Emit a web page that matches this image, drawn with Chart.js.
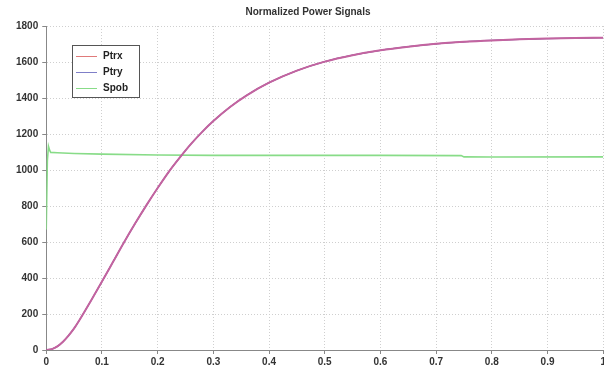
<!DOCTYPE html>
<html>
<head>
<meta charset="utf-8">
<script src="https://cdn.jsdelivr.net/npm/chart.js@4/dist/chart.umd.min.js"></script>
<style>
  body { margin: 0; background: #fff; }
  #wrap { width: 604px; height: 370px; overflow: hidden; }
</style>
</head>
<body>
<div id="wrap"><canvas id="powerChart" width="608" height="370"></canvas></div>
<script>
// time axis for the transmitted power signals
const timeP = [0, 0.01, 0.02, 0.03, 0.04, 0.05, 0.06, 0.08, 0.1, 0.12, 0.14, 0.16, 0.18,
  0.2, 0.22, 0.24, 0.26, 0.28, 0.3, 0.33, 0.36, 0.4, 0.45, 0.5, 0.55, 0.6, 0.65, 0.7,
  0.75, 0.8, 0.85, 0.9, 0.95, 1.0];
const ptrx = [0, 5, 20, 46, 80, 120, 168, 272, 380, 490, 600, 705, 805,
  900, 990, 1070, 1145, 1212, 1272, 1350, 1415, 1485, 1552, 1602, 1638, 1665, 1685, 1701,
  1712, 1720, 1726, 1730, 1733, 1735];
const ptry = [0, 5, 20, 46, 80, 120, 168, 272, 380, 490, 600, 705, 805,
  900, 990, 1070, 1145, 1212, 1272, 1350, 1415, 1485, 1552, 1602, 1638, 1665, 1685, 1701,
  1712, 1720, 1726, 1730, 1733, 1735];

// Spob has its own time points (spike at start, small step near 0.75)
const timeS = [0, 0.002, 0.004, 0.006, 0.008, 0.02, 0.05, 0.1, 0.2, 0.3, 0.5, 0.6, 0.745, 0.75, 0.8, 1.0];
const spob = [670, 1050, 1132, 1110, 1098, 1096, 1092, 1088, 1083, 1081, 1081, 1081, 1080, 1073, 1072, 1073];

const seriesNames = ["Ptrx", "Ptry", "Spob"];

function toPoints(xs, ys) {
  return xs.map((x, i) => ({ x: x, y: ys[i] }));
}

// legend drawn as a boxed inset, like the original figure
const legendBox = {
  id: "legendBox",
  afterDatasetsDraw(chart) {
    const ctx = chart.ctx;
    const x = 72, y = 45, w = 67, h = 52;
    ctx.save();
    ctx.fillStyle = "#fff";
    ctx.fillRect(x, y, w, h);
    ctx.strokeStyle = "#555";
    ctx.lineWidth = 1;
    ctx.strokeRect(x + 0.5, y + 0.5, w, h);
    ctx.font = "bold 10px 'Liberation Sans', Arial, sans-serif";
    ctx.textBaseline = "middle";
    chart.data.datasets.forEach((ds, i) => {
      const ly = y + 11 + i * 16;
      ctx.strokeStyle = ds.legendColor;
      ctx.beginPath();
      ctx.moveTo(x + 4, ly + 0.5);
      ctx.lineTo(x + 25, ly + 0.5);
      ctx.stroke();
      ctx.fillStyle = "#222";
      ctx.fillText(ds.label, x + 31, ly);
    });
    ctx.restore();
  }
};

const ctx = document.querySelector("#powerChart").getContext("2d");

const tickFont = { family: "'Liberation Sans', Arial, sans-serif", size: 10, weight: "bold" };

const config = {
  type: "line",
  data: {
    datasets: [
      {
        label: seriesNames[0],
        data: toPoints(timeP, ptrx),
        borderColor: "rgba(195, 100, 160, 1)",
        legendColor: "#e07a7a",
        borderWidth: 2,
        pointRadius: 0,
        cubicInterpolationMode: "monotone",
      },
      {
        label: seriesNames[1],
        data: toPoints(timeP, ptry),
        borderColor: "rgba(95, 55, 140, 1)",
        legendColor: "#7f7fc8",
        borderWidth: 1.3,
        pointRadius: 0,
        cubicInterpolationMode: "monotone",
      },
      {
        label: seriesNames[2],
        data: toPoints(timeS, spob),
        borderColor: "#88dc88",
        legendColor: "#88dc88",
        borderWidth: 1.6,
        pointRadius: 0,
        tension: 0,
      },
    ],
  },
  options: {
    responsive: false,
    animation: false,
    layout: { padding: { left: 12, right: 4, top: 0, bottom: 0 } },
    plugins: {
      legend: { display: false },
      tooltip: { enabled: false },
      title: {
        display: true,
        text: "Normalized Power Signals",
        color: "#333",
        font: tickFont,
        padding: { top: 6, bottom: 8 },
      },
    },
    scales: {
      x: {
        type: "linear",
        min: 0,
        max: 1,
        ticks: {
          stepSize: 0.1,
          color: "#333",
          padding: 2,
          maxRotation: 0,
          font: tickFont,
          callback: function (value) {
            return String(Math.round(value * 10) / 10);
          },
        },
        grid: { color: "#cfcfcf", tickLength: 4, tickColor: "#888" },
        border: { color: "#888", dash: [1, 2] },
      },
      y: {
        min: 0,
        max: 1800,
        ticks: {
          stepSize: 200,
          color: "#333",
          padding: 4,
          font: tickFont,
          callback: function (value) {
            return String(value);
          },
        },
        grid: { color: "#cfcfcf", tickLength: 4, tickColor: "#888" },
        border: { color: "#888", dash: [1, 2] },
      },
    },
  },
  plugins: [legendBox],
};

const myChart = new Chart(ctx, config);
</script>
</body>
</html>
